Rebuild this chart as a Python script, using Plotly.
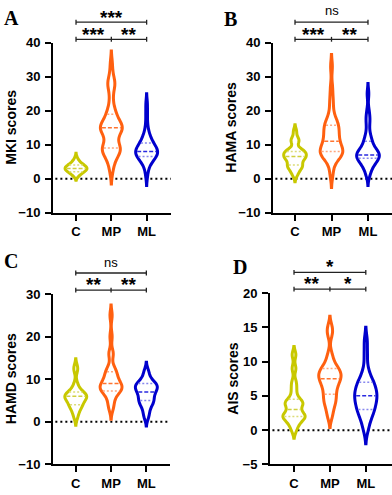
import numpy as np
import plotly.graph_objects as go

W, H = 392, 495
FONT = "Liberation Sans, Arial, sans-serif"
SERIF = "Liberation Serif, Times New Roman, serif"

CATEGORIES = ["C", "MP", "ML"]
LINE_COLORS = ["#C8C800", "#FF6010", "#0000CD"]
MEDIAN_COLORS = ["#D0D040", "#FF7430", "#2A2AE0"]
QUART_COLORS = ["#DCDC78", "#FFA67E", "#8888EE"]

# ---- data ----
MKI_C = [1, 1, 2, 2, 2, 2, 2, 3, 3, 3, 3, 3, 3, 3, 3, 4, 4, 4, 4, 4, 5, 5, 6]
MKI_MP = [2, 4, 5, 6, 7, 7, 8, 8, 8, 9, 9, 9, 9, 10, 10, 11, 12, 13, 13, 14, 14, 14,
          15, 15, 15, 15, 15, 16, 16, 16, 17, 17, 18, 19, 19, 20, 21, 23, 25, 27,
          28, 28, 29, 31, 34]
MKI_ML = [1, 3, 4, 5, 5, 6, 6, 6, 6, 7, 7, 7, 7, 8, 8, 8, 8, 8, 8, 9, 9, 9, 9, 10,
          10, 10, 11, 11, 12, 12, 13, 14, 16, 19, 22]
MKI_BW = [0.75, 1.8, 1.5]

HAMA_C = [1, 2, 3, 3, 4, 4, 4, 5, 6, 6, 6, 6, 7, 7, 7, 8, 8, 8, 8, 9, 11, 11, 12, 14]
HAMA_MP = [1, 3, 5, 6, 6, 7, 7, 7, 7, 8, 8, 8, 8, 9, 9, 9, 10, 10, 11, 11, 12, 12,
           13, 13, 14, 14, 15, 15, 16, 16, 17, 17, 18, 20, 22, 24, 27, 33]
HAMA_ML = [1, 2, 3, 4, 4, 5, 5, 5, 6, 6, 6, 6, 7, 7, 7, 7, 7, 8, 8, 8, 8, 9, 9, 10,
           11, 11, 12, 13, 15, 17, 18, 20, 25]
HAMA_BW = [0.95, 1.8, 1.5]

HAMD_C = [1, 2, 3, 3, 4, 4, 4, 5, 5, 5, 6, 6, 6, 6, 6, 6, 7, 7, 7, 8, 9, 12, 13]
HAMD_MP = [3, 4, 5, 6, 7, 7, 7, 8, 8, 8, 8, 8, 9, 9, 9, 10, 10, 11, 11, 12, 12, 13,
           16, 16, 20, 25]
HAMD_ML = [1, 2, 3, 4, 4, 5, 5, 5, 6, 6, 7, 7, 7, 8, 8, 8, 8, 9, 9, 9, 9, 10, 11, 12]
HAMD_BW = [0.9, 1.2, 1.0]

AIS_C = [0, 1, 1, 2, 2, 2, 2, 2, 3, 3, 4, 4, 4, 4, 5, 6, 7, 9, 11]
AIS_MP = [2, 3, 4, 4, 5, 5, 6, 6, 7, 7, 7, 8, 8, 8, 8, 9, 9, 9, 10, 11, 14, 15]
AIS_ML = [0, 1, 2, 2, 3, 3, 3, 4, 4, 4, 5, 5, 5, 5, 6, 6, 6, 7, 7, 7, 8, 9, 11, 13]
AIS_BW = [0.6, 0.8, 1.0]

# significance labels: [C vs ML (top), C vs MP, MP vs ML]
SIG_A = ["***", "***", "**"]
SIG_B = ["ns", "***", "**"]
SIG_C = ["ns", "**", "**"]
SIG_D = ["*", "**", "*"]

VW = 0.62  # violin width in category units

PANELS = [
    dict(letter="A", title="MKI scores", data=[MKI_C, MKI_MP, MKI_ML], bw=MKI_BW, sig=SIG_A,
         xpx=(53, 171), ypx=(37, 212), yr=(-10, 40), dt=10, xr=(-0.652, 2.69),
         title_x=11, br=(15.7, 33.3), txt=(6.3, 23.7), let=(1.5, 11.5)),
    dict(letter="B", title="HAMA scores", data=[HAMA_C, HAMA_MP, HAMA_ML], bw=HAMA_BW, sig=SIG_B,
         xpx=(273, 392), ypx=(37, 212), yr=(-10, 40), dt=10, xr=(-0.603, 2.658),
         title_x=231, br=(15.7, 33.3), txt=(5.0, 23.7), let=(222.5, 12.5)),
    dict(letter="C", title="HAMD scores", data=[HAMD_C, HAMD_MP, HAMD_ML], bw=HAMD_BW, sig=SIG_C,
         xpx=(53, 170), ypx=(296, 471.7), yr=(-10, 30), dt=10, xr=(-0.645, 2.67),
         title_x=11, br=(274.3, 292), txt=(264, 281.8), let=(1.5, 261.5)),
    dict(letter="D", title="AIS scores", data=[AIS_C, AIS_MP, AIS_ML], bw=AIS_BW, sig=SIG_D,
         xpx=(270, 392), ypx=(295, 471.7), yr=(-5, 20), dt=5, xr=(-0.669, 2.73),
         title_x=233, br=(273.7, 291), txt=(263.3, 281.2), let=(231, 268.5)),
]


def kde_grid(vals, bw):
    """Same grid and gaussian kernel as plotly's violin (soft span)."""
    v = np.asarray(vals, float)
    lo, hi = v.min() - 2 * bw, v.max() + 2 * bw
    n = int(np.ceil((hi - lo) / (bw / 3)))
    step = (hi - lo) / n
    t = lo + step * np.arange(n + 1)
    return t, kde(v, bw, t)


def kde(v, bw, t):
    t = np.atleast_1d(np.asarray(t, float))
    return np.exp(-0.5 * ((t[:, None] - v[None, :]) / bw) ** 2).sum(axis=1)


def py(px):
    return 1 - px / H


fig = go.Figure()
shapes, annotations = [], []
layout = dict(width=W, height=H, margin=dict(l=0, r=0, t=0, b=0),
              paper_bgcolor="white", plot_bgcolor="white", showlegend=False)

for k, p in enumerate(PANELS):
    sfx = "" if k == 0 else str(k + 1)
    xa, ya = "x" + sfx, "y" + sfx
    x0px, x1px = p["xpx"]
    ytop, ybot = p["ypx"]
    ppu = (x1px - x0px) / (p["xr"][1] - p["xr"][0])
    layout["xaxis" + sfx] = dict(
        domain=[x0px / W, x1px / W], range=list(p["xr"]), anchor=ya,
        tickvals=list(range(len(CATEGORIES))), ticktext=CATEGORIES,
        showline=True, linecolor="black", linewidth=2, ticks="outside", ticklen=6,
        tickwidth=2, tickcolor="black", showgrid=False, zeroline=False, ticklabelstandoff=0,
        tickfont=dict(family=FONT, size=13, color="black", weight="bold"), fixedrange=True)
    layout["yaxis" + sfx] = dict(
        domain=[py(ybot), py(ytop)], range=list(p["yr"]), anchor=xa,
        tickmode="linear", tick0=p["yr"][0], dtick=p["dt"],
        showline=True, linecolor="black", linewidth=2, ticks="outside", ticklen=6,
        tickwidth=2, tickcolor="black", showgrid=False, zeroline=False, ticklabelstandoff=2,
        tickfont=dict(family=FONT, size=13, color="black", weight="bold"), fixedrange=True)

    # dotted zero line
    shapes.append(dict(type="line", xref=xa + " domain", yref=ya, x0=0.02, x1=1, y0=0, y1=0,
                       line=dict(color="black", width=2, dash="2px,3px"), layer="below"))

    for i, vals in enumerate(p["data"]):
        bw = p["bw"][i]
        fig.add_trace(go.Violin(
            x0=i, y=vals, xaxis=xa, yaxis=ya, name=CATEGORIES[i], bandwidth=bw,
            spanmode="soft", width=VW, scalemode="width", points=False,
            box_visible=False, meanline_visible=False, fillcolor="white",
            line=dict(color=LINE_COLORS[i], width=3), hoverinfo="skip"))
        v = np.asarray(vals, float)
        _, dens = kde_grid(v, bw)
        qs = np.percentile(v, [25, 50, 75])
        for j, q in enumerate(qs):
            hw = VW / 2 * kde(v, bw, q)[0] / dens.max() - 1.5 / ppu
            fig.add_trace(go.Scatter(
                x=[i - hw, i + hw], y=[q, q], xaxis=xa, yaxis=ya, mode="lines",
                hoverinfo="skip",
                line=dict(color=MEDIAN_COLORS[i] if j == 1 else QUART_COLORS[i], width=1.5,
                          dash="4px,2px" if j == 1 else "2px,2px")))

    # significance brackets
    ytp, ylw = p["br"]
    def seg(xa_, xs, xe, y):
        shapes.append(dict(type="line", xref=xa_, yref="paper", x0=xs, x1=xe, y0=py(y), y1=py(y),
                           line=dict(color="#222", width=1.3)))
    seg(xa, 0, 2, ytp)
    seg(xa, 0, 1, ylw)
    seg(xa, 1, 2, ylw)
    for xv in (0, 2):
        shapes.append(dict(type="line", xref=xa, yref="paper", x0=xv, x1=xv,
                           y0=py(ytp - 2.5), y1=py(ytp + 2.5), line=dict(color="#222", width=1.3)))
    for xv in (0, 1, 2):
        shapes.append(dict(type="line", xref=xa, yref="paper", x0=xv, x1=xv,
                           y0=py(ylw - 2.5), y1=py(ylw + 2.5), line=dict(color="#222", width=1.3)))

    ttop, tlow = p["txt"]
    for label, xc, yc in [(p["sig"][0], 1, ttop), (p["sig"][1], 0.5, tlow), (p["sig"][2], 1.5, tlow)]:
        if label == "ns":
            annotations.append(dict(text=label, xref=xa, yref="paper", x=xc, y=py(yc - 1),
                                    showarrow=False, xanchor="center", yanchor="middle",
                                    font=dict(family=FONT, size=13, color="black")))
        else:
            annotations.append(dict(text=label, xref=xa, yref="paper", x=xc, y=py(yc + 4.4),
                                    showarrow=False, xanchor="center", yanchor="middle",
                                    font=dict(family=FONT, size=19, color="black", weight="bold")))

    # y-axis title
    annotations.append(dict(text=p["title"], xref="paper", yref="paper", x=p["title_x"] / W,
                            y=py((ytop + ybot) / 2), textangle=-90, showarrow=False,
                            xanchor="center", yanchor="middle",
                            font=dict(family=FONT, size=14, color="black", weight="bold")))
    # panel letter
    lx, ly = p["let"]
    annotations.append(dict(text=p["letter"], xref="paper", yref="paper", x=lx / W, y=py(ly),
                            showarrow=False, xanchor="left", yanchor="middle",
                            font=dict(family=SERIF, size=20, color="black", weight="bold")))

layout["shapes"] = shapes
layout["annotations"] = annotations
fig.update_layout(**layout)
fig.write_html("out.html", config=dict(displayModeBar=False),
               post_script="document.body.style.margin='0';document.body.style.overflow='hidden';")
